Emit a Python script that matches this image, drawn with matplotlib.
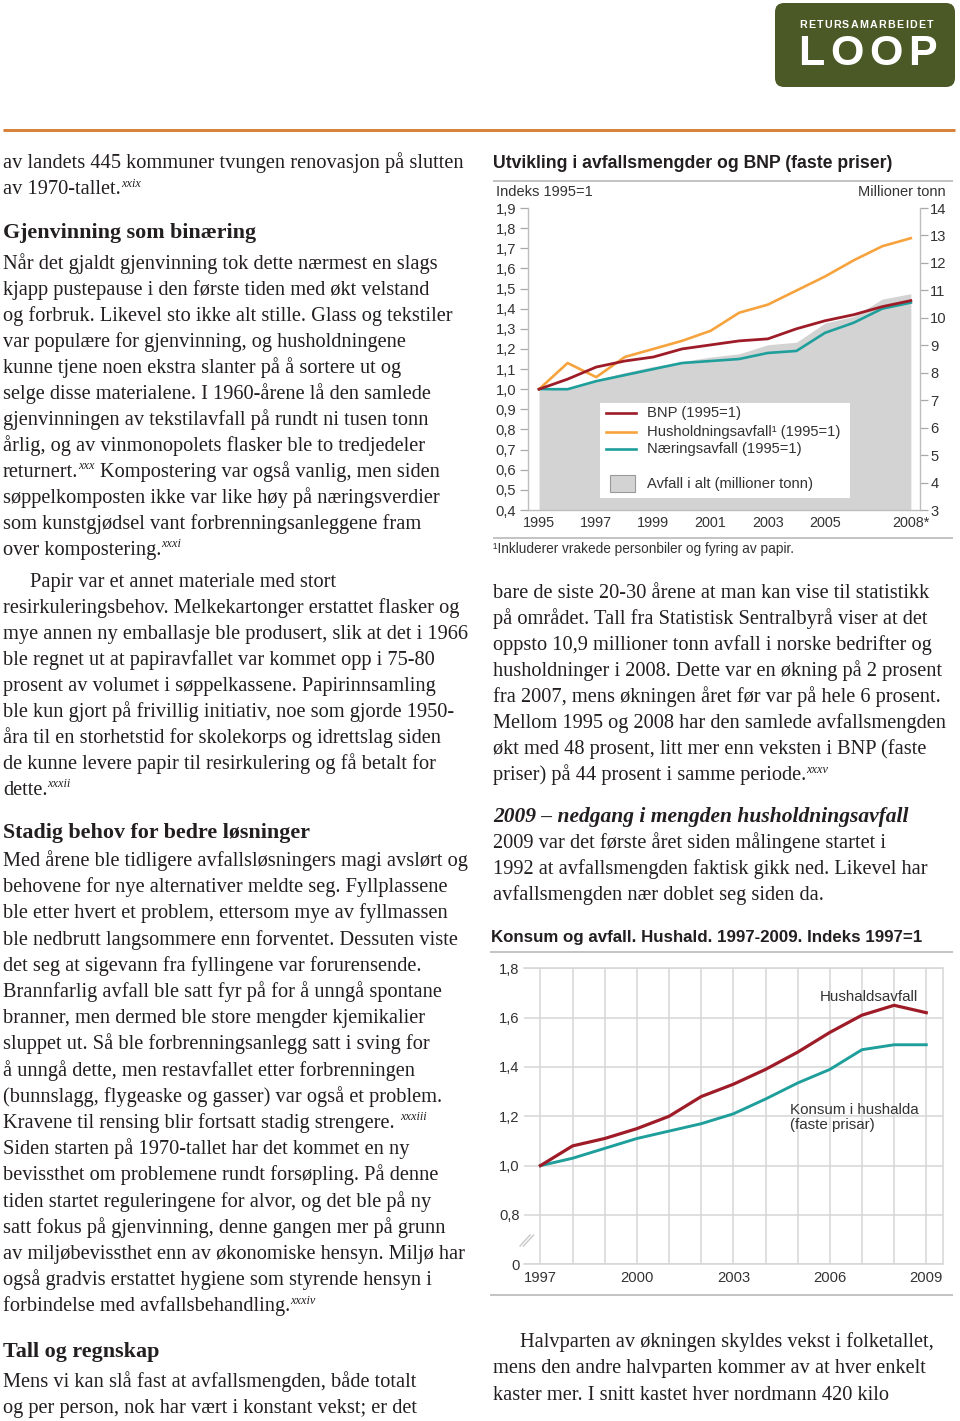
import matplotlib
matplotlib.use("Agg")
import matplotlib.pyplot as plt
from matplotlib.lines import Line2D
from matplotlib.patches import Rectangle, FancyBboxPatch
from matplotlib.transforms import IdentityTransform

# Page size in pixels
W, H, DPI = 960, 1421, 100
INK = "#231f20"
SERIF = "Liberation Serif"
SANS = "Liberation Sans"

RED = "#9e1c28"
ORANGE = "#f6a33e"
TEAL = "#1f9f9b"
AREA = "#d3d3d3"
RULE = "#c4c4c4"
GRID = "#d6d6d6"

# Chart 1: Utvikling i avfallsmengder og BNP (faste priser)
years_1 = [1995, 1996, 1997, 1998, 1999, 2000, 2001, 2002, 2003, 2004, 2005, 2006, 2007, 2008]
bnp = [1.00, 1.05, 1.11, 1.14, 1.16, 1.20, 1.22, 1.24, 1.25, 1.30, 1.34, 1.37, 1.41, 1.44]
husholdningsavfall = [1.00, 1.13, 1.06, 1.16, 1.20, 1.24, 1.29, 1.38, 1.42, 1.49, 1.56, 1.64, 1.71, 1.75]
naeringsavfall = [1.00, 1.00, 1.04, 1.07, 1.10, 1.13, 1.14, 1.15, 1.18, 1.19, 1.28, 1.33, 1.40, 1.43]
avfall_i_alt = [7.35, 7.44, 7.74, 8.01, 8.23, 8.41, 8.57, 8.69, 9.02, 9.11, 9.81, 10.05, 10.68, 10.88]
index_ticks_1 = [0.4, 0.5, 0.6, 0.7, 0.8, 0.9, 1.0, 1.1, 1.2, 1.3, 1.4, 1.5, 1.6, 1.7, 1.8, 1.9]
tonn_ticks_1 = [3, 4, 5, 6, 7, 8, 9, 10, 11, 12, 13, 14]
year_ticks_1 = [1995, 1997, 1999, 2001, 2003, 2005, 2008]
year_labels_1 = ["1995", "1997", "1999", "2001", "2003", "2005", "2008*"]

# Chart 2: Konsum og avfall. Hushald. 1997-2009
years_2 = [1997, 1998, 1999, 2000, 2001, 2002, 2003, 2004, 2005, 2006, 2007, 2008, 2009]
hushaldsavfall = [1.00, 1.08, 1.11, 1.15, 1.20, 1.28, 1.33, 1.39, 1.46, 1.54, 1.61, 1.65, 1.62]
konsum = [1.00, 1.03, 1.07, 1.11, 1.14, 1.17, 1.21, 1.27, 1.335, 1.39, 1.47, 1.49, 1.49]
index_ticks_2 = [0.6, 0.8, 1.0, 1.2, 1.4, 1.6, 1.8]
index_labels_2 = ["0", "0,8", "1,0", "1,2", "1,4", "1,6", "1,8"]
year_labels_2 = [1997, 2000, 2003, 2006, 2009]

fig = plt.figure(figsize=(W / DPI, H / DPI), dpi=DPI)
fig.patch.set_facecolor("white")
renderer = fig.canvas.get_renderer()


def fx(x):
  return x / W


def fy(y):
  return 1 - y / H


def put(x, y, s, size, **kw):
  kw.setdefault("color", INK)
  kw.setdefault("va", "baseline")
  return fig.text(fx(x), fy(y), s, fontsize=size, **kw)


def width_px(t):
  return t.get_window_extent(renderer).width


# Font size that makes a string span the given pixel width
def fit(s, target, **kw):
  t = fig.text(0, 0, s, fontsize=20, **kw)
  w = width_px(t)
  t.remove()
  return 20 * target / w


def hline(x0, x1, y, color, lw_px):
  fig.add_artist(Line2D([fx(x0), fx(x1)], [fy(y), fy(y)], color=color,
                        lw=lw_px * 72 / DPI, solid_capstyle="butt"))


# One line of body text, "^" marks a superscript note
def body_line(x, y, line, size):
  space = size * DPI / 72 * 0.25
  for i, part in enumerate(line.split("^")):
    if not part:
      continue
    if part.startswith(" "):
      x += space
    s = part.strip()
    if i % 2 == 1:
      t = put(x, y - size * DPI / 72 * 0.38, s, size * 0.6, family=SERIF, style="italic")
      x += width_px(t)
    else:
      t = put(x, y, s, size, family=SERIF)
      x += width_px(t)
    if part.endswith(" "):
      x += space


def block(x, y0, step, lines, size, first_x=None):
  for k, line in enumerate(lines):
    lx = first_x if (k == 0 and first_x is not None) else x
    body_line(lx, y0 + k * step, line, size)


# ---- Page furniture: logo and orange rule
logo = FancyBboxPatch((775, H - 87), 180, 84, boxstyle="round,pad=0,rounding_size=9",
                      transform=IdentityTransform(), facecolor="#4a5925", edgecolor="none")
fig.add_artist(logo)


def spaced(x0, x1, yc, s, size, **kw):
  ts = [fig.text(0, fy(yc), ch, fontsize=size, va="center", ha="left", **kw) for ch in s]
  ws = [width_px(t) for t in ts]
  gap = (x1 - x0 - sum(ws)) / (len(s) - 1)
  x = x0
  for t, w in zip(ts, ws):
    t.set_x(fx(x))
    x += w + gap


spaced(799, 933, 25, "RETURSAMARBEIDET", 7.7, color="white", weight="bold", family=SANS)
spaced(798, 937, 54, "LOOP", 31, color="white", weight="bold", family=SANS)

hline(3, 955, 129.5, "#d8833c", 3)

# ---- Body text sizes
body = fit("Når det gjaldt gjenvinning tok dette nærmest en slags", 436, family=SERIF)
head = fit("Stadig behov for bedre løsninger", 305, family=SERIF, weight="bold")
head_r = fit("2009 – nedgang i mengden husholdningsavfall", 414, family=SERIF,
             weight="bold", style="italic")

# ---- Left column
block(3, 168.3, 26, [
  "av landets 445 kommuner tvungen renovasjon på slutten",
  "av 1970-tallet.^xxix",
], body)
put(3, 238.3, "Gjenvinning som binæring", head, family=SERIF, weight="bold")
block(3, 269, 26, [
  "Når det gjaldt gjenvinning tok dette nærmest en slags",
  "kjapp pustepause i den første tiden med økt velstand",
  "og forbruk. Likevel sto ikke alt stille. Glass og tekstiler",
  "var populære for gjenvinning, og husholdningene",
  "kunne tjene noen ekstra slanter på å sortere ut og",
  "selge disse materialene. I 1960-årene lå den samlede",
  "gjenvinningen av tekstilavfall på rundt ni tusen tonn",
  "årlig, og av vinmonopolets flasker ble to tredjedeler",
  "returnert.^xxx^ Kompostering var også vanlig, men siden",
  "søppelkomposten ikke var like høy på næringsverdier",
  "som kunstgjødsel vant forbrenningsanleggene fram",
  "over kompostering.^xxxi",
], body)
block(3, 587, 26, [
  "Papir var et annet materiale med stort",
  "resirkuleringsbehov. Melkekartonger erstattet flasker og",
  "mye annen ny emballasje ble produsert, slik at det i 1966",
  "ble regnet ut at papiravfallet var kommet opp i 75-80",
  "prosent av volumet i søppelkassene. Papirinnsamling",
  "ble kun gjort på frivillig initiativ, noe som gjorde 1950-",
  "åra til en storhetstid for skolekorps og idrettslag siden",
  "de kunne levere papir til resirkulering og få betalt for",
  "dette.^xxxii",
], body, first_x=30)
put(3, 837.5, "Stadig behov for bedre løsninger", head, family=SERIF, weight="bold")
block(3, 866, 26.2, [
  "Med årene ble tidligere avfallsløsningers magi avslørt og",
  "behovene for nye alternativer meldte seg. Fyllplassene",
  "ble etter hvert et problem, ettersom mye av fyllmassen",
  "ble nedbrutt langsommere enn forventet. Dessuten viste",
  "det seg at sigevann fra fyllingene var forurensende.",
  "Brannfarlig avfall ble satt fyr på for å unngå spontane",
  "branner, men dermed ble store mengder kjemikalier",
  "sluppet ut. Så ble forbrenningsanlegg satt i sving for",
  "å unngå dette, men restavfallet etter forbrenningen",
  "(bunnslagg, flygeaske og gasser) var også et problem.",
  "Kravene til rensing blir fortsatt stadig strengere. ^xxxiii",
  "Siden starten på 1970-tallet har det kommet en ny",
  "bevissthet om problemene rundt forsøpling. På denne",
  "tiden startet reguleringene for alvor, og det ble på ny",
  "satt fokus på gjenvinning, denne gangen mer på grunn",
  "av miljøbevissthet enn av økonomiske hensyn. Miljø har",
  "også gradvis erstattet hygiene som styrende hensyn i",
  "forbindelse med avfallsbehandling.^xxxiv",
], body)
put(3, 1357, "Tall og regnskap", head, family=SERIF, weight="bold")
block(3, 1387, 26.3, [
  "Mens vi kan slå fast at avfallsmengden, både totalt",
  "og per person, nok har vært i konstant vekst; er det",
], body)

# ---- Right column text
block(493, 598.3, 26, [
  "bare de siste 20-30 årene at man kan vise til statistikk",
  "på området. Tall fra Statistisk Sentralbyrå viser at det",
  "oppsto 10,9 millioner tonn avfall i norske bedrifter og",
  "husholdninger i 2008. Dette var en økning på 2 prosent",
  "fra 2007, mens økningen året før var på hele 6 prosent.",
  "Mellom 1995 og 2008 har den samlede avfallsmengden",
  "økt med 48 prosent, litt mer enn veksten i BNP (faste",
  "priser) på 44 prosent i samme periode.^xxxv",
], body)
put(493, 821.7, "2009 – nedgang i mengden husholdningsavfall", head_r, family=SERIF,
    weight="bold", style="italic")
block(493, 848.3, 26, [
  "2009 var det første året siden målingene startet i",
  "1992 at avfallsmengden faktisk gikk ned. Likevel har",
  "avfallsmengden nær doblet seg siden da.",
], body)
block(493, 1346.7, 26.6, [
  "Halvparten av økningen skyldes vekst i folketallet,",
  "mens den andre halvparten kommer av at hver enkelt",
  "kaster mer. I snitt kastet hver nordmann 420 kilo",
], body, first_x=519.7)

# ---- Chart 1
t1 = "Utvikling i avfallsmengder og BNP (faste priser)"
put(493, 168, t1, fit(t1, 397, family=SANS, weight="bold"), family=SANS, weight="bold")
hline(493, 953, 180.7, RULE, 2)
hline(493, 953, 538, RULE, 2)
small = fit("Indeks 1995=1", 96, family=SANS)
put(496, 196, "Indeks 1995=1", small, family=SANS, color="#333333")
put(946, 196, "Millioner tonn", small, family=SANS, color="#333333", ha="right")
foot = "¹Inkluderer vrakede personbiler og fyring av papir."
put(493, 553, foot, fit(foot, 299, family=SANS), family=SANS, color="#333333")

ax1 = fig.add_axes([fx(528), fy(510), (920 - 528) / W, (510 - 208) / H])
ax1.set_xlim(1994.615, 2008.32)
ax1.set_ylim(0.4, 1.9)
axr = ax1.twinx()
axr.set_ylim(3, 14)
axr.fill_between(years_1, avfall_i_alt, 3, color=AREA, lw=0)
ax1.set_zorder(axr.get_zorder() + 1)
ax1.patch.set_visible(False)

ax1.plot(years_1, naeringsavfall, color=TEAL, lw=1.9, solid_joinstyle="round")
ax1.plot(years_1, husholdningsavfall, color=ORANGE, lw=1.9, solid_joinstyle="round")
ax1.plot(years_1, bnp, color=RED, lw=2.0, solid_joinstyle="round")

for ax in (ax1, axr):
  for s in ax.spines.values():
    s.set_visible(False)
for ax, side in ((ax1, "left"), (ax1, "bottom"), (axr, "right")):
  ax.spines[side].set_visible(True)
  ax.spines[side].set_color("#bdbdbd")
  ax.spines[side].set_linewidth(1)

ax1.set_yticks(index_ticks_1, [f"{v:.1f}".replace(".", ",") for v in index_ticks_1])
axr.set_yticks(tonn_ticks_1, [str(v) for v in tonn_ticks_1])
ax1.set_xticks(year_ticks_1, year_labels_1)
ax1.tick_params(axis="y", length=5.8, width=0.9, color="#a8a8a8", pad=2.8,
                labelsize=10.6, labelcolor="#333333")
axr.tick_params(axis="y", length=5.8, width=0.9, color="#a8a8a8", pad=1.5,
                labelsize=10.6, labelcolor="#333333")
ax1.tick_params(axis="x", length=0, pad=4, labelsize=10.4, labelcolor="#333333")
for lab in ax1.get_yticklabels() + axr.get_yticklabels() + ax1.get_xticklabels():
  lab.set_family(SANS)

# Legend box
fig.add_artist(Rectangle((fx(600), fy(498)), 250 / W, 95 / H, transform=fig.transFigure,
                         facecolor="white", edgecolor="none", zorder=5))
leg_size = fit("Husholdningsavfall¹ (1995=1)", 192, family=SANS)
legend_rows = [(413, RED, "BNP (1995=1)"),
               (431.5, ORANGE, "Husholdningsavfall¹ (1995=1)"),
               (449, TEAL, "Næringsavfall (1995=1)")]
for y, c, lab in legend_rows:
  fig.add_artist(Line2D([fx(606), fx(636)], [fy(y), fy(y)], color=c, lw=1.9, zorder=6))
  put(647, y, lab, leg_size, family=SANS, va="center", color="#333333", zorder=6)
fig.add_artist(Rectangle((fx(610), fy(492)), 25 / W, 17 / H, transform=fig.transFigure,
                         facecolor=AREA, edgecolor="#9a9a9a", lw=0.8, zorder=6))
put(647, 484, "Avfall i alt (millioner tonn)", leg_size, family=SANS, va="center",
    color="#333333", zorder=6)

# ---- Chart 2
t2 = "Konsum og avfall. Hushald. 1997-2009. Indeks 1997=1"
put(491, 942, t2, fit(t2, 432, family=SANS, weight="bold"), family=SANS, weight="bold")
hline(490, 953, 952, RULE, 2)
hline(490, 953, 1295, RULE, 2)

ax2 = fig.add_axes([fx(523.7), fy(1264.3), (943 - 523.7) / W, (1264.3 - 968.3) / H])
ax2.set_xlim(1996.48, 2009.52)
ax2.set_ylim(0.6, 1.8)
ax2.set_xticks(years_2, [str(y) if y in year_labels_2 else "" for y in years_2])
ax2.set_yticks(index_ticks_2, index_labels_2)
ax2.grid(True, color=GRID, lw=1.1)
ax2.set_axisbelow(True)
ax2.spines["left"].set_visible(False)
for side in ("top", "bottom", "right"):
  ax2.spines[side].set_color(GRID)
  ax2.spines[side].set_linewidth(1.1)
ax2.tick_params(axis="both", length=0, labelsize=10.6, labelcolor="#333333")
ax2.tick_params(axis="y", pad=3)
ax2.tick_params(axis="x", pad=4.5)
for lab in ax2.get_yticklabels() + ax2.get_xticklabels():
  lab.set_family(SANS)

ax2.plot(years_2, konsum, color=TEAL, lw=2.1, solid_joinstyle="round")
ax2.plot(years_2, hushaldsavfall, color=RED, lw=2.3, solid_joinstyle="round")

lab_size = fit("Hushaldsavfall", 98, family=SANS)
ax2.text(2005.68, 1.682, "Hushaldsavfall", fontsize=lab_size, family=SANS,
         va="center", color="#333333")
ax2.text(2004.75, 1.226, "Konsum i hushalda", fontsize=lab_size, family=SANS,
         va="center", color="#333333")
ax2.text(2004.75, 1.165, "(faste prisar)", fontsize=lab_size, family=SANS,
         va="center", color="#333333")

# axis break marks between 0 and 0,8
for dx in (0, 3.5):
  fig.add_artist(Line2D([fx(520 + dx), fx(530 + dx)], [fy(1246), fy(1235)],
                        color="#c8c8c8", lw=1.0))

fig.savefig("out.png", dpi=DPI)
